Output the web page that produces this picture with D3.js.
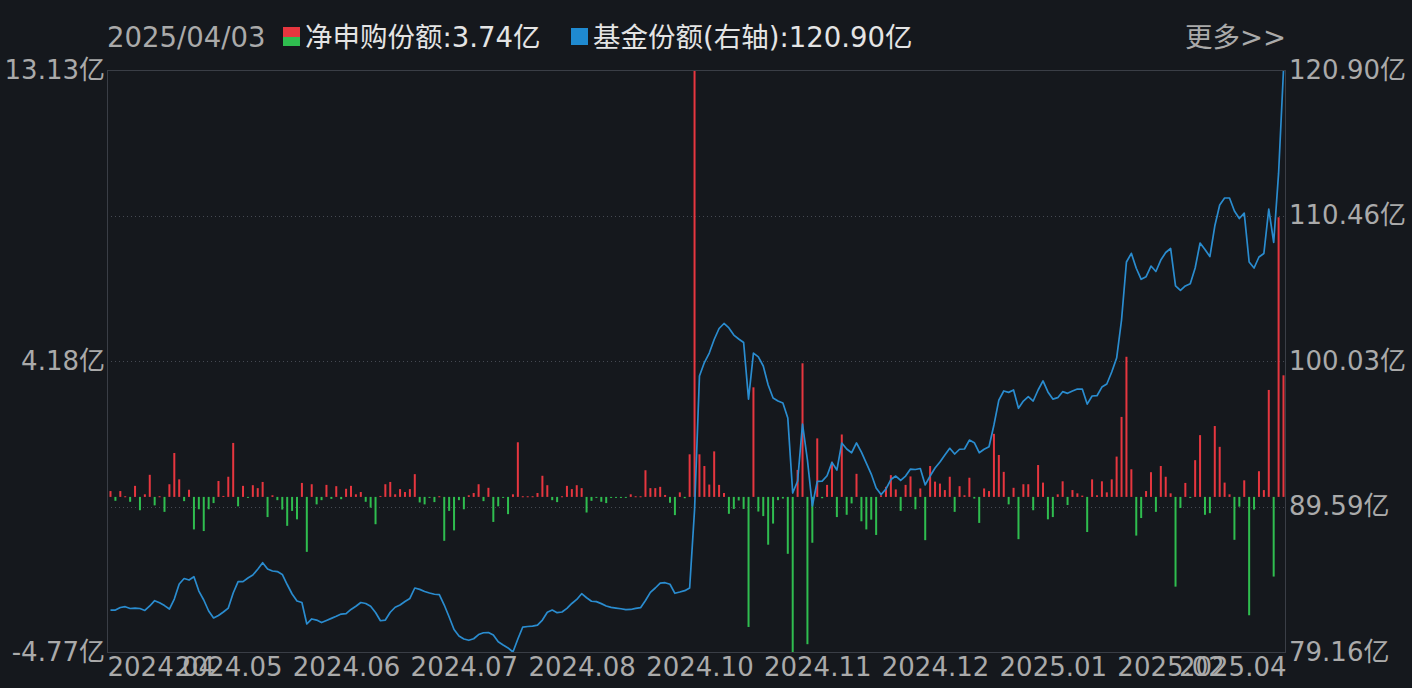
<!DOCTYPE html>
<html><head><meta charset="utf-8">
<script src="https://cdn.jsdelivr.net/npm/d3@7"></script>
<style>
html,body{margin:0;padding:0;background:#15181d;overflow:hidden;}
svg{display:block;}
text{font-family:"DejaVu Sans","Noto Sans CJK SC",sans-serif;}
</style></head><body>
<svg id="chart" width="1412" height="688"></svg>
<script>
const lastDate = "2025/04/03";
const netName = "净申购份额";
const shareName = "基金份额(右轴)";
const netValues = [
0.18,-0.12,0.18,0.02,-0.15,0.34,-0.41,0.08,0.68,-0.26,
0.02,-0.46,0.39,1.35,0.54,-0.13,0.22,-1.00,-0.38,-1.05,
-0.38,-0.19,0.49,0.03,0.62,1.66,-0.29,0.34,-0.03,0.36,
0.27,0.46,-0.62,0.05,-0.10,-0.39,-0.89,-0.43,-0.69,0.43,
-1.69,0.39,-0.23,-0.10,0.37,-0.06,0.33,-0.07,0.25,0.34,
0.08,0.15,-0.15,-0.33,-0.84,0.03,0.39,0.46,0.08,0.24,
0.15,0.24,0.70,-0.17,-0.23,-0.03,-0.16,0.02,-1.35,-0.43,
-1.03,-0.10,-0.38,0.05,0.12,0.39,-0.13,0.28,-0.77,-0.29,
-0.03,-0.53,0.08,1.68,0.02,0.02,0.02,0.12,0.65,0.36,
-0.10,-0.16,0.02,0.34,0.24,0.36,0.27,-0.48,-0.12,-0.03,
-0.15,-0.19,-0.03,-0.03,-0.03,-0.03,0.08,0.02,0.02,0.82,
0.27,0.27,0.31,0.06,-0.18,-0.56,0.14,-0.04,1.31,13.13,
1.31,0.95,0.38,1.40,0.37,0.12,-0.52,-0.37,-0.11,-0.37,
-4.00,3.37,-0.45,-0.59,-1.47,-0.82,-0.10,-0.05,-1.75,-4.77,
0.83,4.11,-4.53,-1.41,1.80,-0.04,0.37,1.08,-0.62,1.92,
-0.55,-0.20,0.71,-0.75,-1.00,-0.70,-1.17,0.05,0.31,0.67,
0.23,-0.43,0.37,0.63,-0.38,0.26,-1.33,0.95,0.47,0.41,
0.21,0.62,-0.46,0.33,0.05,0.59,-0.05,-0.80,0.26,0.18,
1.94,1.29,0.77,-0.23,0.28,-1.30,0.39,0.39,-0.41,0.98,
0.44,-0.69,-0.62,0.08,0.48,-0.25,0.21,0.11,0.04,-1.08,
0.54,0.05,0.48,0.14,0.54,1.24,2.46,4.31,0.85,-1.19,
-0.65,0.18,0.76,-0.46,0.95,0.62,0.11,-2.76,-0.34,0.43,
-0.03,1.13,1.90,-0.55,-0.50,2.18,1.54,0.44,0.08,-1.32,
-0.30,0.51,-3.64,-0.39,0.79,0.21,3.29,-2.45,8.60,3.74
];
const shareValues = [
82.17,82.17,82.35,82.41,82.28,82.31,82.28,82.14,82.46,82.84,
82.69,82.49,82.24,82.96,84.04,84.43,84.32,84.56,83.53,82.89,
82.10,81.60,81.78,82.03,82.31,83.39,84.21,84.21,84.47,84.68,
85.10,85.56,85.11,84.97,84.93,84.72,84.00,83.32,82.82,82.71,
81.17,81.53,81.45,81.27,81.42,81.57,81.72,81.88,81.91,82.21,
82.44,82.71,82.64,82.44,81.99,81.40,81.45,82.01,82.37,82.53,
82.78,83.00,83.75,83.65,83.50,83.39,83.30,83.27,82.53,81.67,
80.77,80.31,80.09,80.00,80.11,80.41,80.54,80.56,80.38,79.89,
79.66,79.45,79.16,80.09,80.95,80.99,81.02,81.09,81.45,82.01,
82.17,81.98,82.03,82.29,82.64,82.93,83.34,83.05,82.80,82.77,
82.63,82.46,82.36,82.31,82.26,82.20,82.21,82.29,82.34,82.85,
83.44,83.75,84.10,84.13,84.02,83.37,83.46,83.56,83.75,89.34,
98.95,99.92,100.60,101.57,102.36,102.72,102.40,101.89,101.61,101.36,
97.30,100.60,100.32,99.67,98.31,97.38,97.16,97.02,95.94,90.56,
91.42,95.51,92.93,89.63,91.39,91.42,91.80,92.76,92.21,94.15,
93.72,93.45,94.15,93.50,92.71,91.92,90.92,90.45,90.85,91.53,
91.78,91.46,91.78,92.28,92.25,92.32,91.14,91.78,92.36,92.79,
93.29,93.77,93.36,93.70,93.72,94.36,94.17,93.45,93.70,93.88,
95.44,97.23,97.88,97.78,97.95,96.64,97.16,97.47,97.16,97.95,
98.60,97.81,97.30,97.40,97.83,97.71,97.88,98.02,98.02,96.94,
97.52,97.54,98.16,98.38,99.24,100.24,102.97,107.13,107.75,106.68,
105.89,106.08,106.84,106.45,107.27,107.81,108.10,105.41,105.09,105.41,
105.57,106.70,108.49,108.03,107.52,109.71,111.22,111.72,111.72,110.79,
110.25,110.64,107.13,106.70,107.49,107.74,110.93,108.53,113.50,120.90
];
const xTickIndex = [0,24,48,72,96,120,144,168,192,216,239];
const xTickLabels = ["2024.04","2024.05","2024.06","2024.07","2024.08","2024.10","2024.11","2024.12","2025.01","2025.02","2025.04"];
const leftTicks = [13.13, 4.18, -4.77];
const rightTicks = [120.90, 110.46, 100.03, 89.59, 79.16];

const W = 1412, H = 688;
const L = 107, R = 1286, T = 70, B = 652;
const FS = 26, HFS = 27.5;
const C = {bg:"#15181d", grid:"#3a3e46", axisText:"#aaaaaa", title:"#e4e4e4",
  red:"#e6363f", green:"#2fbd4f", blue:"#2a8ccf"};

const svg = d3.select("#chart");
svg.append("rect").attr("width",W).attr("height",H).attr("fill",C.bg);

const N = netValues.length;
const x = d3.scalePoint().domain(d3.range(N)).range([110.5, 1283.5]);
const yL = d3.scaleLinear().domain([leftTicks[2], leftTicks[0]]).range([B, T]);
const yR = d3.scaleLinear().domain([rightTicks[4], rightTicks[0]]).range([B, T]);

// grid
svg.append("g").selectAll("line").data(rightTicks.slice(1,-1)).join("line")
  .attr("x1",L).attr("x2",R).attr("y1",d=>Math.round(yR(d))+0.5).attr("y2",d=>Math.round(yR(d))+0.5)
  .attr("stroke","#454952").attr("stroke-dasharray","1,3");

// bars
svg.append("g").selectAll("rect").data(netValues).join("rect")
  .attr("x",(d,i)=>x(i)-1)
  .attr("width",2)
  .attr("y",d=> d>=0 ? yL(d) : yL(0))
  .attr("height",d=> Math.max(1, Math.abs(yL(d)-yL(0))))
  .attr("fill",d=> d>=0 ? C.red : C.green);

// line
svg.append("path").datum(shareValues)
  .attr("fill","none").attr("stroke",C.blue).attr("stroke-width",1.7)
  .attr("stroke-linejoin","round")
  .attr("d", d3.line().x((d,i)=>x(i)).y(d=>yR(d)));

// border
svg.append("rect").attr("x",L+0.5).attr("y",T+0.5).attr("width",R-L-1).attr("height",B-T)
  .attr("fill","none").attr("stroke",C.grid);

// left axis
const gl = svg.append("g").attr("transform",`translate(${L},0)`)
  .call(d3.axisLeft(yL).tickValues(leftTicks).tickSize(0).tickPadding(2).tickFormat(d=>d.toFixed(2)+"亿"));
gl.select(".domain").remove();
gl.selectAll("text").attr("fill",C.axisText).style("font-size",FS+"px").style("font-family",null);

// right axis
const gr = svg.append("g").attr("transform",`translate(${R},0)`)
  .call(d3.axisRight(yR).tickValues(rightTicks).tickSize(0).tickPadding(3).tickFormat(d=>d.toFixed(2)+"亿"));
gr.select(".domain").remove();
gr.selectAll("text").attr("fill",C.axisText).style("font-size",FS+"px").style("font-family",null);

// bottom axis
const gb = svg.append("g").attr("transform",`translate(0,${B})`)
  .call(d3.axisBottom(x).tickValues(xTickIndex).tickSize(0).tickPadding(6)
    .tickFormat((d,k)=>xTickLabels[k]));
gb.select(".domain").remove();
gb.selectAll("text").attr("fill",C.axisText).style("font-size",FS+"px").style("font-family",null);
gb.selectAll(".tick").filter((d,k)=>k===0).select("text")
  .attr("text-anchor","start").attr("x", L - x(xTickIndex[0]));
gb.selectAll(".tick").filter((d,k)=>k===xTickIndex.length-1).select("text")
  .attr("text-anchor","end").attr("x", R - x(xTickIndex[xTickIndex.length-1]));

// legend / header
const ty = 37;
svg.append("text").attr("x",L).attr("y",ty).attr("dominant-baseline","central")
  .attr("fill",C.axisText).style("font-size",HFS+"px").text(lastDate);
svg.append("rect").attr("x",283).attr("y",27).attr("width",17).attr("height",10).attr("fill",C.red);
svg.append("rect").attr("x",283).attr("y",37).attr("width",17).attr("height",9).attr("fill",C.green);
svg.append("text").attr("x",305).attr("y",ty).attr("dominant-baseline","central")
  .attr("fill",C.title).style("font-size",HFS+"px")
  .text(netName+":"+netValues[N-1].toFixed(2)+"亿");
svg.append("rect").attr("x",571).attr("y",28).attr("width",17).attr("height",17).attr("fill","#1f8ad0");
svg.append("text").attr("x",593).attr("y",ty).attr("dominant-baseline","central")
  .attr("fill",C.title).style("font-size",HFS+"px")
  .text(shareName+":"+shareValues[N-1].toFixed(2)+"亿");
svg.append("text").attr("x",R).attr("y",ty).attr("text-anchor","end").attr("dominant-baseline","central")
  .attr("fill",C.axisText).style("font-size",HFS+"px").text("更多>>");
</script>
</body></html>
